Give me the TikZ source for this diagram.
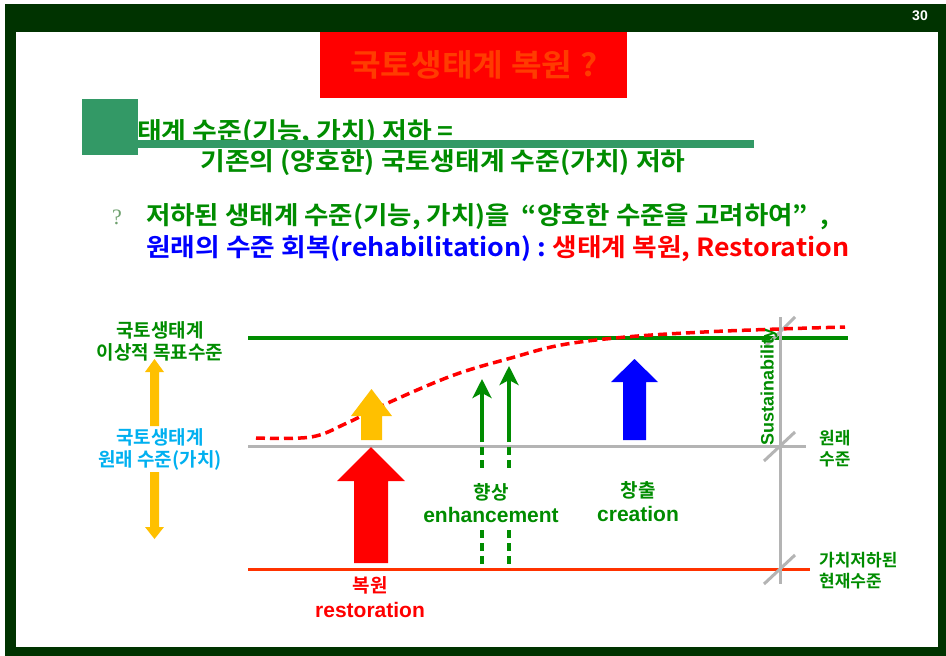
\documentclass[tikz,border=0pt]{standalone}
\usepackage{fontspec}
\setmainfont{Noto Sans CJK KR}[BoldFont={Noto Sans CJK KR Bold}]
\newfontfamily\latfont{Liberation Sans}
\newfontfamily\serfont{Liberation Serif}
\usetikzlibrary{arrows.meta}
\definecolor{framegreen}{RGB}{0,51,0}
\definecolor{titletext}{RGB}{255,60,0}
\definecolor{sqgreen}{RGB}{51,153,102}
\definecolor{txtgreen}{RGB}{0,140,0}
\definecolor{lgray}{RGB}{180,180,180}
\definecolor{orred}{RGB}{255,51,0}
\definecolor{amber}{RGB}{255,192,0}
\definecolor{skyc}{RGB}{0,176,240}
\definecolor{qgreen}{RGB}{110,160,110}
\newcommand\wide[1]{\scalebox{1.075}[1]{#1}}
\tikzset{
  kr/.style={font=\bfseries\fontsize{#1}{#1}\selectfont, inner sep=0pt},
  krl/.style 2 args={font=\bfseries\fontsize{#1}{#2}\selectfont, inner sep=0pt, align=center},
  lat/.style={font=\latfont\bfseries\fontsize{#1}{#1}\selectfont, inner sep=0pt},
  levelline/.style={line width=#1},
  blockarrow/.style={draw=none},
  thinarrow/.style={txtgreen, line width=4pt, -{Stealth[length=19pt,width=19pt,inset=5pt]}},
  dashseg/.style={txtgreen, line width=4pt, dash pattern=on 8pt off 5pt},
}
\begin{document}
\begin{tikzpicture}[x=1pt,y=-1pt]
\useasboundingbox (0,0) rectangle (946,656);
% frame
\fill[framegreen] (5,4) rectangle (946,656);
\fill[white] (16,32) rectangle (938,647);
\node[lat=14, white] (pg) at (920,16) {30};
% title
\node[fill=red, minimum width=307pt, minimum height=66pt, inner sep=0pt, anchor=north west] (titlebox) at (320,32) {};
\node[kr=31, titletext] (title) at (titlebox.center) {\wide{국토생태계 복원 ?}};
% headline
\node[kr=25, txtgreen, anchor=west] (line1) at (137,133) {\wide{태계 수준(기능, 가치) 저하 =}};
\fill[sqgreen] (82,99) rectangle (138,155);
\fill[sqgreen] (138,140) rectangle (754,148);
\node[kr=25, txtgreen] (line2) at (443,163) {\wide{기존의 (양호한) 국토생태계 수준(가치) 저하}};
\node[font=\serfont\fontsize{22}{22}\selectfont, qgreen, inner sep=0pt] (q) at (117,217) {?};
\node[kr=25, txtgreen, anchor=west] (line3) at (146,217) {\scalebox{1.06}[1]{저하된 생태계 수준(기능, 가치)을 \ “양호한 수준을 고려하여”\ \ ,}};
\node[kr=25, anchor=west] (line4) at (146,249) {\scalebox{1.07}[1]{\color{blue}원래의 수준 회복(rehabilitation) :\ \color{red}생태계 복원, Restoration}};
% level lines
\coordinate (gL) at (248,338); \coordinate (gR) at (848,338);
\coordinate (oL) at (248,446); \coordinate (oR) at (806,446);
\coordinate (rL) at (248,569); \coordinate (rR) at (810,569);
\coordinate (vT) at (780,317); \coordinate (vB) at (780,584);
\draw[txtgreen, levelline=4pt] (gL) -- (gR);
\draw[lgray, levelline=3pt] (oL) -- (oR);
\draw[orred, levelline=3pt] (rL) -- (rR);
\draw[lgray, levelline=3pt] (vT) -- (vB);
\draw[lgray, levelline=3pt] (766,346) -- (795,317);
\draw[lgray, levelline=3pt] (764,461) -- (795,432);
\draw[lgray, levelline=3pt] (764,584) -- (795,555);
\node[lat=18, txtgreen, rotate=90] (sus) at (769,387) {Sustainability};
% red dashed trajectory
\draw[red, line width=3.5pt, dash pattern=on 9pt off 5pt] plot[smooth, tension=0.6] coordinates {(256,438) (311,437) (347,423) (390,402) (454,375) (511,358) (561,345) (626,337) (704,332) (779,329) (845,327)};
% block arrows
\fill[amber, blockarrow] (361,440) -- (361,416) -- (351,416) -- (371.5,389) -- (392,416) -- (382,416) -- (382,440) -- cycle;
\fill[red, blockarrow] (354,563) -- (354,481) -- (337,481) -- (371,447) -- (405,481) -- (388,481) -- (388,563) -- cycle;
\fill[blue, blockarrow] (623,440) -- (623,382) -- (611,382) -- (634.5,359) -- (658,382) -- (646,382) -- (646,440) -- cycle;
% enhancement arrows
\coordinate (e1b) at (482,442); \coordinate (e1t) at (482,379);
\coordinate (e2b) at (509,442); \coordinate (e2t) at (509,366);
\draw[thinarrow] (e1b) -- (e1t);
\draw[thinarrow] (e2b) -- (e2t);
\draw[dashseg] (482,447) -- (482,472);
\draw[dashseg] (509,447) -- (509,472);
\draw[dashseg] (482,530) -- (482,569);
\draw[dashseg] (509,530) -- (509,569);
% diagram labels
\node[kr=19, txtgreen] (enhk) at (491,492) {향상};
\node[lat=21, txtgreen] (enh) at (491,515) {enhancement};
\node[kr=19, txtgreen] (crek) at (638,490) {창출};
\node[lat=21, txtgreen] (cre) at (638,514) {creation};
\node[kr=19, red] (resk) at (370,585) {복원};
\node[lat=21, red] (res) at (370,610) {restoration};
% left side
\node[krl={19}{22}, txtgreen] (ideal) at (160,341) {국토생태계\\이상적 목표수준};
\node[krl={19}{22}, skyc] (orig) at (160,449) {국토생태계\\원래 수준(가치)};
\fill[amber, blockarrow] (150,426) -- (150,372) -- (145,372) -- (154.5,359) -- (164,372) -- (159,372) -- (159,426) -- cycle;
\fill[amber, blockarrow] (150,472) -- (150,527) -- (145,527) -- (154.5,539) -- (164,527) -- (159,527) -- (159,472) -- cycle;
\node[fill=orred, minimum width=160pt, minimum height=32pt, inner sep=0pt, kr=20, white] (low) at (158,558) {수준(가치) 저하};
% right side
\node[krl={17}{21}, txtgreen, align=left, anchor=west] (origr) at (819,449) {원래\\수준};
\node[krl={17}{21}, txtgreen, align=left, anchor=west] (curr) at (819,571) {가치저하된\\현재수준};
\end{tikzpicture}
\end{document}
